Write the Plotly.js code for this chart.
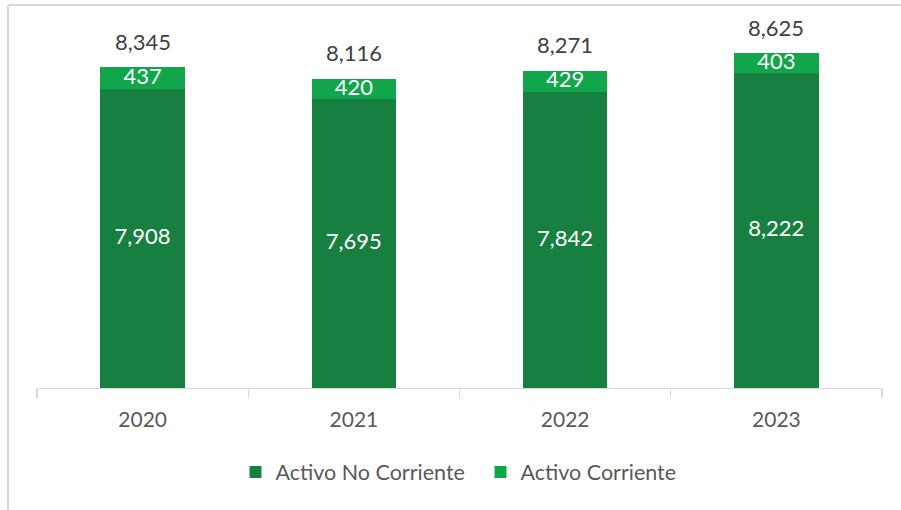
<!DOCTYPE html>
<html>
<head>
<meta charset="utf-8">
<script src="https://cdn.plot.ly/plotly-3.0.1.min.js"></script>
<style>
html,body{margin:0;padding:0;background:#fff;}
#chart{width:901px;height:510px;}
</style>
</head>
<body>
<div id="chart"></div>
<script>
const years = ["2020", "2021", "2022", "2023"];
const activoNoCorriente = [7908, 7695, 7842, 8222];
const activoCorriente = [437, 420, 429, 403];
const totals = [8345, 8116, 8271, 8625];
const seriesNames = ["Activo No Corriente", "Activo Corriente"];

const fmt = v => v.toLocaleString("en-US");
const FONT = "Lato, 'Open Sans', sans-serif";
const Y_MIN = 1860, Y_MAX = 9100;

const traces = [
  {
    type: "bar", name: seriesNames[0], x: years, y: activoNoCorriente,
    marker: {color: "#178040", line: {width: 0}}, hoverinfo: "skip"
  },
  {
    type: "bar", name: seriesNames[1], x: years, y: activoCorriente,
    marker: {color: "#11a64b", line: {width: 0}}, hoverinfo: "skip"
  },
  {
    type: "scatter", mode: "text", showlegend: false, hoverinfo: "skip",
    x: years, y: activoNoCorriente.map(v => (Y_MIN + v) / 2),
    text: activoNoCorriente.map(fmt), textposition: "middle center",
    textfont: {family: FONT, size: 22, color: "#ffffff"}
  },
  {
    type: "scatter", mode: "text", showlegend: false, hoverinfo: "skip",
    x: years, y: activoCorriente.map((v, i) => activoNoCorriente[i] + v / 2),
    text: activoCorriente.map(fmt), textposition: "middle center",
    textfont: {family: FONT, size: 22, color: "#ffffff"}
  }
];

const annotations = years.map((yr, i) => ({
  x: i, y: totals[i], xref: "x", yref: "y",
  text: fmt(totals[i]), showarrow: false,
  yanchor: "middle", yshift: 26,
  font: {family: FONT, size: 22, color: "#404040"}
}));

const layout = {
  width: 901, height: 510,
  margin: {l: 37, r: 19, t: 30, b: 122},
  paper_bgcolor: "#ffffff", plot_bgcolor: "#ffffff",
  barmode: "stack", bargap: 0.6,
  showlegend: true,
  legend: {
    orientation: "h", x: 0.2349, xanchor: "left", y: -0.235, yanchor: "middle",
    font: {family: FONT, size: 21.5, color: "#595959"}, itemclick: false,
    traceorder: "normal", entrywidth: 200
  },
  xaxis: {
    type: "category", range: [-0.5, 3.5], autorange: false,
    tickson: "boundaries", ticks: "outside", ticklen: 9,
    tickcolor: "#d9d9d9", tickwidth: 1.3, showline: true, linecolor: "#d9d9d9", linewidth: 1.3,
    showgrid: false, zeroline: false, ticklabelstandoff: 12,
    tickfont: {family: FONT, size: 21, color: "#595959"}
  },
  yaxis: {
    range: [Y_MIN, Y_MAX], autorange: false, visible: false, showgrid: false, zeroline: false, fixedrange: true
  },
  annotations: annotations,
  shapes: [
    {type: "line", xref: "paper", yref: "paper", x0: (8 - 37) / 845, x1: (8 - 37) / 845,
     y0: (388 - 5) / 358, y1: (388 - 520) / 358, line: {color: "#d9d9d9", width: 2}},
    {type: "line", xref: "paper", yref: "paper", x0: (8 - 37) / 845, x1: (905 - 37) / 845,
     y0: (388 - 5) / 358, y1: (388 - 5) / 358, line: {color: "#d9d9d9", width: 2}}
  ]
};

Plotly.newPlot("chart", traces, layout, {displayModeBar: false, staticPlot: true});
</script>
</body>
</html>
